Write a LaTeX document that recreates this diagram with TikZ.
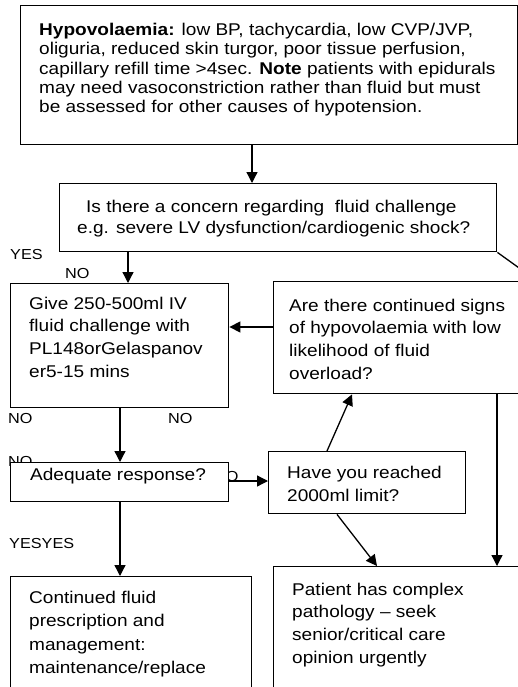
\documentclass[tikz,border=0pt]{standalone}
\usepackage{fontspec}
\setmainfont[FakeStretch=1.12]{Liberation Sans}
\usetikzlibrary{arrows.meta}

\begin{document}
\begin{tikzpicture}[x=1pt, y=-1pt,
    box/.style={draw=black, line width=1.4pt, fill=white, anchor=north west, inner sep=0pt},
    txt/.style={anchor=base west, align=left, inner sep=0pt, font=\fontsize{17}{22.7}\selectfont},
    lbl/.style={anchor=base west, inner sep=0pt, font=\fontsize{14.5}{16}\selectfont},
    arr/.style={line width=1.3pt, -{Triangle[length=11pt, width=11pt]}}]
    \path[use as bounding box] (0,0) rectangle (518,687);
    \clip (0,0) rectangle (518,687);

    % answer labels (partly hidden by the boxes)
    \node[lbl] at (10,259) (yes1) {YES};
    \node[lbl] at (65,278) (no1) {NO};
    \node[lbl] at (8,423) (no2) {NO};
    \node[lbl] at (168,423) (no3) {NO};
    \node[lbl] at (8,466) (no4) {NO};
    \node[lbl] at (214,481) (no5) {NO};
    \node[lbl] at (9,548) (yes2) {YESYES};

    % boxes
    \node[box, minimum width=497, minimum height=139] at (20,5) (hyp) {};
    \node[box, minimum width=437, minimum height=68] at (59,183) (conc) {};
    \node[box, minimum width=218, minimum height=124] at (10,283) (give) {};
    \node[box, minimum width=260, minimum height=112] at (273,281) (signs) {};
    \node[box, minimum width=218, minimum height=39] at (10,462) (adeq) {};
    \node[box, minimum width=197, minimum height=62] at (268,451) (reach) {};
    \node[box, minimum width=260, minimum height=140] at (273,566) (patient) {};
    \node[box, minimum width=241, minimum height=130] at (10,576) (cont) {};

    % box texts (placed at the baseline of their last line)
    \node[txt, font=\fontsize{17}{19.3}\selectfont] at (39,112.7) (hyptxt)
        {\textbf{Hypovolaemia:} low BP, tachycardia, low CVP/JVP,\\
         oliguria, reduced skin turgor, poor tissue perfusion,\\
         capillary refill time >4sec. \textbf{Note} patients with epidurals\\
         may need vasoconstriction rather than fluid but must\\
         be assessed for other causes of hypotension.};
    \node[txt, font=\fontsize{17}{21.3}\selectfont] at (77,233.3) (conctxt)
        {\hspace*{9pt}Is there a concern regarding\ \ fluid challenge\\
         e.g. severe LV dysfunction/cardiogenic shock?};
    \node[txt] at (29,377.1) (givetxt)
        {Give 250-500ml IV\\ fluid challenge with\\ PL148orGelaspanov\\ er5-15 mins};
    \node[txt] at (289,379.1) (signstxt)
        {Are there continued signs\\ of hypovolaemia with low\\ likelihood of fluid\\ overload?};
    \node[txt] at (30,480) (adeqtxt) {Adequate response?};
    \node[txt, font=\fontsize{17}{23.5}\selectfont] at (287,501.5) (reachtxt)
        {Have you reached\\ 2000ml limit?};
    \node[txt] at (292,663.1) (patienttxt)
        {Patient has complex\\ pathology – seek\\ senior/critical care\\ opinion urgently};
    \node[txt, font=\fontsize{17}{23.5}\selectfont] at (29,673.5) (conttxt)
        {Continued fluid\\ prescription and\\ management:\\ maintenance/replace};

    % connectors
    \coordinate (off) at (540,283);
    \draw[arr] (252,0 |- hyp.south) -- (252,0 |- conc.north);
    \draw[arr] (128,0 |- conc.south) -- (128,0 |- give.north);
    \draw[arr] (signs.west |- 0,327) -- (give.east |- 0,327);
    \draw[arr] (120,0 |- give.south) -- (120,0 |- adeq.north);
    \draw[arr] (adeq.east |- 0,481) -- (reach.west |- 0,481);
    \draw[arr] (327,0 |- reach.north) -- (352,0 |- signs.south);
    \draw[arr] (337,0 |- reach.south) -- (377,0 |- patient.north);
    \draw[arr] (497,0 |- signs.south) -- (497,0 |- patient.north);
    \draw[arr] (120,0 |- adeq.south) -- (120,0 |- cont.north);
    \draw[line width=1.3pt] (conc.south east) -- (off);
\end{tikzpicture}
\end{document}
